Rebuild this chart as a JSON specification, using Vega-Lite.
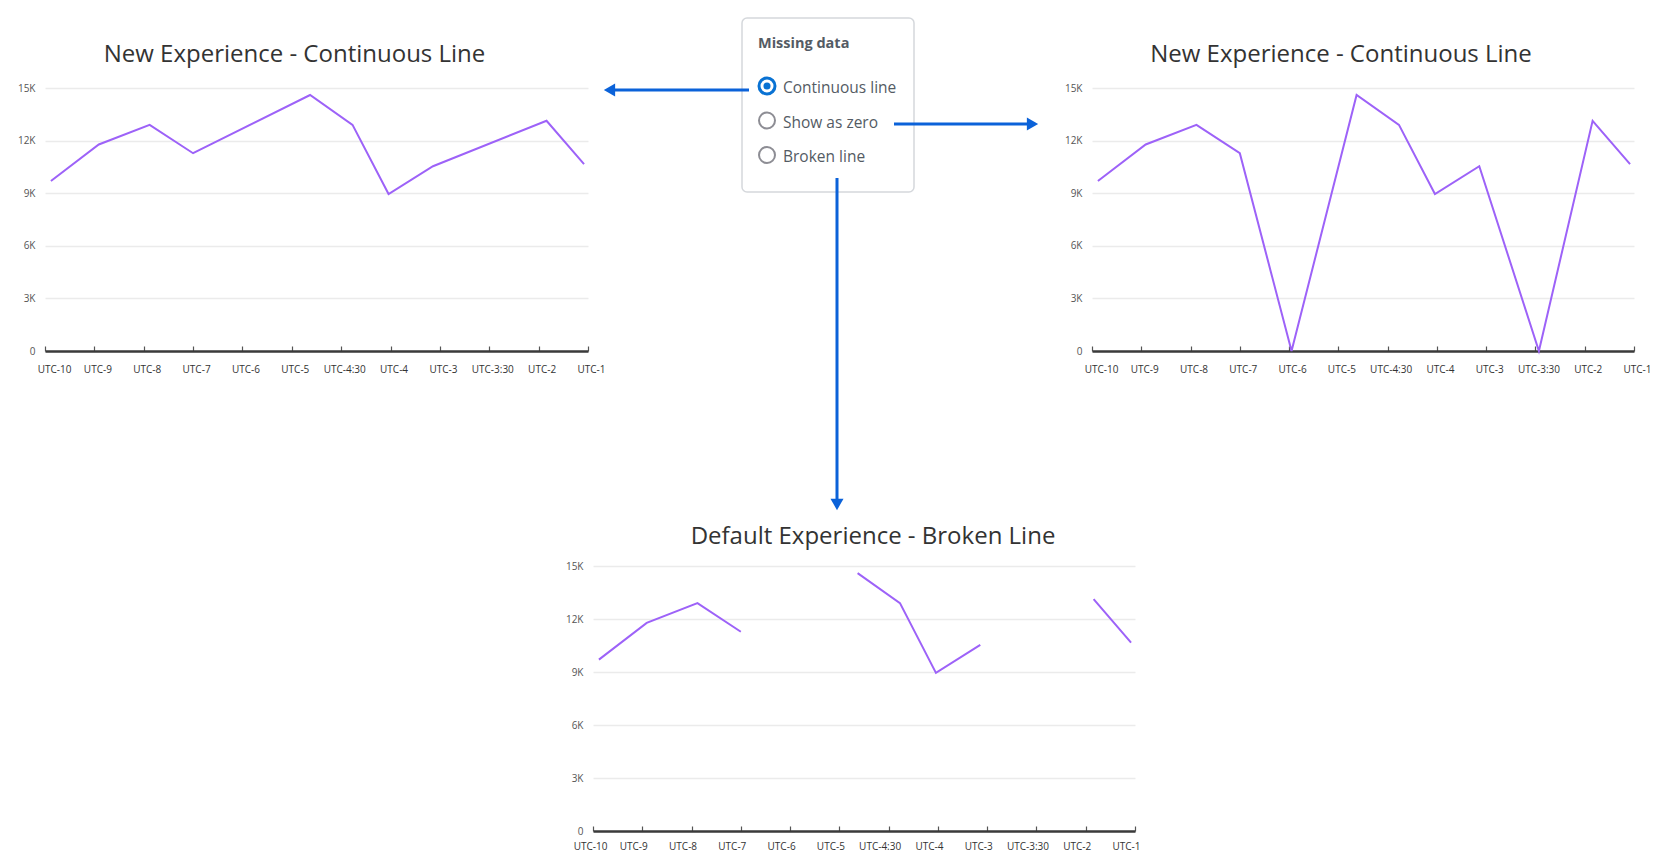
{
  "$schema": "https://vega.github.io/schema/vega-lite/v6.json",
  "background": "white",
  "padding": {"left": 17, "top": 17, "right": 0, "bottom": 4},
  "config": {
    "view": {"stroke": null},
    "font": "Open Sans",
    "title": {"fontSize": 24, "fontWeight": "normal", "color": "#333333", "font": "Open Sans", "anchor": "middle", "frame": "group", "offset": 16},
    "axisX": {"domain": true, "domainColor": "#3a3a3a", "domainWidth": 2.5, "ticks": true, "tickColor": "#555555", "tickSize": -5, "tickWidth": 1.2, "grid": false, "labelFont": "Open Sans", "labelFontSize": 10, "labelColor": "#333333", "labelPadding": 18, "labelAngle": 0, "labelOverlap": false, "labelFlush": false, "title": null},
    "axisY": {"domain": false, "ticks": false, "grid": true, "gridColor": "#ebebeb", "gridWidth": 1.5, "labelFont": "Open Sans", "labelFontSize": 10, "labelColor": "#555555", "labelPadding": 10, "title": null}
  },
  "datasets": {
    "series": [
      {"slot": 0.12, "count": 9700},
      {"slot": 1.09, "count": 11780},
      {"slot": 2.12, "count": 12900},
      {"slot": 3.0, "count": 11280},
      {"slot": 4.05, "count": null},
      {"slot": 5.37, "count": 14600},
      {"slot": 6.23, "count": 12900},
      {"slot": 6.96, "count": 8950},
      {"slot": 7.86, "count": 10540},
      {"slot": 9.07, "count": null},
      {"slot": 10.16, "count": 13130},
      {"slot": 10.92, "count": 10660}
    ],
    "options": [
      {"option": "Continuous line", "selected": true},
      {"option": "Show as zero", "selected": false},
      {"option": "Broken line", "selected": false}
    ],
    "panel": [{"title": "Missing data"}]
  },
  "bounds": "flush",
  "spacing": 478,
  "vconcat": [
    {
      "bounds": "flush",
      "spacing": 154,
      "hconcat": [
        {
          "width": 543,
          "height": 263,
          "title": {"text": "New Experience - Continuous Line", "dx": -22},
          "data": {"name": "series"},
          "mark": {"type": "line", "color": "#9d62f8", "strokeWidth": 2, "invalid": "filter"},
          "encoding": {
            "x": {"field": "slot", "type": "quantitative", "scale": {"domain": [0, 11], "nice": false, "zero": false}, "axis": {"values": [0,1,2,3,4,5,6,7,8,9,10,11], "labelOffset": {"condition": {"test": "datum.value == 0", "value": 9}, "value": 3}, "labelExpr": "['UTC-10','UTC-9','UTC-8','UTC-7','UTC-6','UTC-5','UTC-4:30','UTC-4','UTC-3','UTC-3:30','UTC-2','UTC-1'][datum.value]"}},
            "y": {"field": "count", "type": "quantitative", "scale": {"domain": [0, 15000], "nice": false}, "axis": {"values": [0,3000,6000,9000,12000,15000], "labelExpr": "datum.value == 0 ? '0' : (datum.value / 1000) + 'K'"}}
          }
        },
        {
          "width": 196,
          "height": 263,
          "resolve": {"scale": {"y": "independent"}},
          "layer": [
            {
              "data": {"name": "panel"},
              "mark": {"type": "rect", "fill": "white", "stroke": "#d5d8dc", "strokeWidth": 1.5, "cornerRadius": 5},
              "encoding": {
                "x": {"datum": 0, "type": "quantitative", "scale": {"domain": [0, 196], "nice": false, "zero": false}, "axis": null},
                "x2": {"datum": 172},
                "y": {"datum": -70, "type": "quantitative", "scale": {"domain": [0, 263], "reverse": true, "nice": false, "zero": false}, "axis": null},
                "y2": {"datum": 104}
              }
            },
            {
              "data": {"name": "panel"},
              "mark": {"type": "text", "align": "left", "baseline": "middle", "fontSize": 14.5, "fontWeight": "bold", "color": "#545b64", "font": "Open Sans"},
              "encoding": {
                "x": {"datum": 16, "type": "quantitative", "scale": {"domain": [0, 196], "nice": false, "zero": false}, "axis": null},
                "y": {"datum": -44, "type": "quantitative", "scale": {"domain": [0, 263], "reverse": true, "nice": false, "zero": false}, "axis": null},
                "text": {"field": "title"}
              }
            },
            {
              "data": {"name": "options"},
              "mark": {"type": "point", "shape": "circle", "filled": false, "size": 256, "opacity": 1},
              "encoding": {
                "x": {"datum": 25, "type": "quantitative", "scale": {"domain": [0, 196], "nice": false, "zero": false}, "axis": null},
                "y": {"field": "option", "type": "nominal", "scale": {"type": "point", "padding": 0, "domain": ["Continuous line", "Show as zero", "Broken line"], "range": [-2, 67]}, "axis": null},
                "stroke": {"condition": {"test": "datum.selected", "value": "#0972d3"}, "value": "#8d8d94"},
                "strokeWidth": {"condition": {"test": "datum.selected", "value": 3}, "value": 2}
              }
            },
            {
              "data": {"name": "options"},
              "transform": [{"filter": "datum.selected"}],
              "mark": {"type": "point", "shape": "circle", "filled": true, "size": 50, "color": "#0972d3", "opacity": 1},
              "encoding": {
                "x": {"datum": 25, "type": "quantitative", "scale": {"domain": [0, 196], "nice": false, "zero": false}, "axis": null},
                "y": {"field": "option", "type": "nominal", "scale": {"type": "point", "padding": 0, "domain": ["Continuous line", "Show as zero", "Broken line"], "range": [-2, 67]}, "axis": null}
              }
            },
            {
              "data": {"name": "options"},
              "mark": {"type": "text", "align": "left", "baseline": "middle", "fontSize": 15.5, "color": "#545b64", "font": "Open Sans", "dy": 2},
              "encoding": {
                "x": {"datum": 41, "type": "quantitative", "scale": {"domain": [0, 196], "nice": false, "zero": false}, "axis": null},
                "y": {"field": "option", "type": "nominal", "scale": {"type": "point", "padding": 0, "domain": ["Continuous line", "Show as zero", "Broken line"], "range": [-2, 67]}, "axis": null},
                "text": {"field": "option"}
              }
            },
            {
              "data": {"name": "panel"},
              "mark": {"type": "rule", "color": "#0b62d9", "strokeWidth": 3},
              "encoding": {
                "x": {"datum": 7, "type": "quantitative", "scale": {"domain": [0, 196], "nice": false, "zero": false}, "axis": null},
                "x2": {"datum": -130},
                "y": {"datum": 2, "type": "quantitative", "scale": {"domain": [0, 263], "reverse": true, "nice": false, "zero": false}, "axis": null}
              }
            },
            {
              "data": {"name": "panel"},
              "mark": {"type": "point", "shape": "triangle-left", "filled": true, "size": 170, "color": "#0b62d9", "opacity": 1},
              "encoding": {
                "x": {"datum": -132.5, "type": "quantitative", "scale": {"domain": [0, 196], "nice": false, "zero": false}, "axis": null},
                "y": {"datum": 2, "type": "quantitative", "scale": {"domain": [0, 263], "reverse": true, "nice": false, "zero": false}, "axis": null}
              }
            },
            {
              "data": {"name": "panel"},
              "mark": {"type": "rule", "color": "#0b62d9", "strokeWidth": 3},
              "encoding": {
                "x": {"datum": 152, "type": "quantitative", "scale": {"domain": [0, 196], "nice": false, "zero": false}, "axis": null},
                "x2": {"datum": 288},
                "y": {"datum": 36, "type": "quantitative", "scale": {"domain": [0, 263], "reverse": true, "nice": false, "zero": false}, "axis": null}
              }
            },
            {
              "data": {"name": "panel"},
              "mark": {"type": "point", "shape": "triangle-right", "filled": true, "size": 170, "color": "#0b62d9", "opacity": 1},
              "encoding": {
                "x": {"datum": 290.5, "type": "quantitative", "scale": {"domain": [0, 196], "nice": false, "zero": false}, "axis": null},
                "y": {"datum": 36, "type": "quantitative", "scale": {"domain": [0, 263], "reverse": true, "nice": false, "zero": false}, "axis": null}
              }
            },
            {
              "data": {"name": "panel"},
              "mark": {"type": "rule", "color": "#0b62d9", "strokeWidth": 3},
              "encoding": {
                "x": {"datum": 95, "type": "quantitative", "scale": {"domain": [0, 196], "nice": false, "zero": false}, "axis": null},
                "y": {"datum": 90, "type": "quantitative", "scale": {"domain": [0, 263], "reverse": true, "nice": false, "zero": false}, "axis": null},
                "y2": {"datum": 414}
              }
            },
            {
              "data": {"name": "panel"},
              "mark": {"type": "point", "shape": "triangle-down", "filled": true, "size": 170, "color": "#0b62d9", "opacity": 1},
              "encoding": {
                "x": {"datum": 95, "type": "quantitative", "scale": {"domain": [0, 196], "nice": false, "zero": false}, "axis": null},
                "y": {"datum": 416.5, "type": "quantitative", "scale": {"domain": [0, 263], "reverse": true, "nice": false, "zero": false}, "axis": null}
              }
            }
          ]
        },
        {
          "width": 542,
          "height": 263,
          "title": {"text": "New Experience - Continuous Line", "dx": -22},
          "data": {"name": "series"},
          "mark": {"type": "line", "color": "#9d62f8", "strokeWidth": 2, "invalid": "show"},
          "encoding": {
            "x": {"field": "slot", "type": "quantitative", "scale": {"domain": [0, 11], "nice": false, "zero": false}, "axis": {"values": [0,1,2,3,4,5,6,7,8,9,10,11], "labelOffset": {"condition": {"test": "datum.value == 0", "value": 9}, "value": 3}, "labelExpr": "['UTC-10','UTC-9','UTC-8','UTC-7','UTC-6','UTC-5','UTC-4:30','UTC-4','UTC-3','UTC-3:30','UTC-2','UTC-1'][datum.value]"}},
            "y": {"field": "count", "type": "quantitative", "scale": {"domain": [0, 15000], "nice": false}, "axis": {"values": [0,3000,6000,9000,12000,15000], "labelExpr": "datum.value == 0 ? '0' : (datum.value / 1000) + 'K'"}}
          }
        }
      ]
    },
    {
      "bounds": "flush",
      "spacing": 547,
      "hconcat": [
        {
          "width": 1,
          "height": 265,
          "data": {"values": []},
          "mark": "point"
        },
        {
          "width": 542,
          "height": 265,
          "title": {"text": "Default Experience - Broken Line", "dx": 9, "offset": 12},
          "data": {"name": "series"},
          "mark": {"type": "line", "color": "#9d62f8", "strokeWidth": 2, "invalid": "break-paths-filter-domains"},
          "encoding": {
            "x": {"field": "slot", "type": "quantitative", "scale": {"domain": [0, 11], "nice": false, "zero": false}, "axis": {"values": [0,1,2,3,4,5,6,7,8,9,10,11], "labelPadding": 15, "labelOffset": {"condition": {"test": "datum.value == 0", "value": -3}, "value": -9}, "labelExpr": "['UTC-10','UTC-9','UTC-8','UTC-7','UTC-6','UTC-5','UTC-4:30','UTC-4','UTC-3','UTC-3:30','UTC-2','UTC-1'][datum.value]"}},
            "y": {"field": "count", "type": "quantitative", "scale": {"domain": [0, 15000], "nice": false}, "axis": {"values": [0,3000,6000,9000,12000,15000], "labelExpr": "datum.value == 0 ? '0' : (datum.value / 1000) + 'K'"}}
          }
        }
      ]
    }
  ]
}
